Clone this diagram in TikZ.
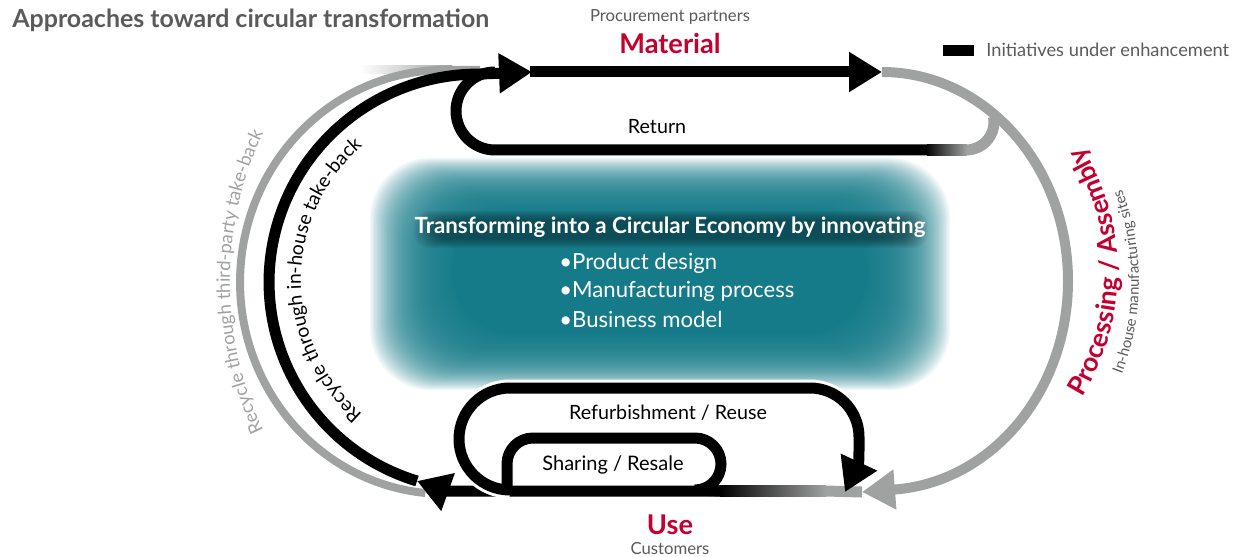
\documentclass[tikz,border=0pt]{standalone}
\usepackage{fontspec}
\setmainfont{Lato}
\usetikzlibrary{arrows.meta,decorations.text}
\definecolor{nisred}{HTML}{C3002F}
\definecolor{arcgrey}{HTML}{A0A2A1}
\definecolor{txtgrey}{HTML}{5A5A5A}
\definecolor{blobteal}{HTML}{0D7684}

\begin{document}
\begin{tikzpicture}[x=0.02cm, y=-0.02cm,
	blk/.style={line width=0.22cm, black},
	gry/.style={line width=0.2cm, arcgrey},
	halo/.style={line width=0.34cm, white},
	tip/.style={-{Triangle[length=0.66cm,width=0.76cm]}},
	lbl/.style={inner sep=0pt, font=\fontsize{11.2}{13}\selectfont},
	stage/.style={inner sep=0pt, text=nisred, font=\bfseries\fontsize{15.5}{18}\selectfont},
	who/.style={inner sep=0pt, text=txtgrey, font=\fontsize{9.5}{11}\selectfont},
	bullet/.style={inner sep=0pt, anchor=west, text=white, font=\fontsize{12.6}{14}\selectfont}]
	\useasboundingbox (0,0) rectangle (1233,557);

	% teal cloud in the middle
	\foreach \k in {0,...,59}
		\fill[blobteal, opacity=0.05, rounded corners=1.2cm] (370+1.4*\k,158+0.95*\k) rectangle (950-1.4*\k,390-0.95*\k);
	% dark glow behind the heading
	\foreach \k in {0,...,9}
		\fill[black, opacity=0.045, rounded corners=0.3cm] (414+2*\k,211+\k) rectangle (928-2*\k,248-\k);

	% key points
	\coordinate (matIn) at (532,72);
	\coordinate (matOut) at (882,72);
	\coordinate (useIn) at (862,492);
	\coordinate (useOut) at (417,481);

	% third-party take-back (grey, outside)
	\shade[left color=white, right color=arcgrey] (360,66) rectangle (452,74);
	\draw[gry, line width=0.16cm] (425.4,493) arc[start angle=95.5, end angle=270, x radius=205, y radius=212] -- (480,70);

	% processing / assembly (grey, right)
	\draw[gry, tip] (matOut) arc[start angle=-90, end angle=86, x radius=186, y radius=209] -- (useIn);

	% return
	\draw[gry, line width=0.22cm] (966,150) arc[start angle=90, end angle=-10, radius=28];
	\shade[left color=black, right color=arcgrey] (925,144.5) rectangle (967,155.5);
	\draw[halo] (927,150) -- (495,150);
	\draw[blk] (927,150) -- (495,150) arc[start angle=90, end angle=270, radius=39];

	% material
	\draw[blk, tip] (530,72) -- (matOut);

	% in-house take-back
	\draw[blk, tip] (useOut) arc[start angle=107, end angle=270, x radius=209, y radius=208] -- (matIn);

	% use line
	\shade[left color=black, right color=arcgrey] (720,485.5) rectangle (826,496.5);
	\draw[gry, line width=0.22cm] (825,491) -- (useIn);
	\draw[blk, tip] (722,491) -- (470,491) .. controls (445,491) .. (useOut);

	% refurbishment / reuse
	\draw[halo] (510,490) arc[start angle=90, end angle=270, radius=51] -- (810,388) arc[start angle=270, end angle=360, radius=49];
	\draw[blk, tip] (510,490) arc[start angle=90, end angle=270, radius=51] -- (810,388) arc[start angle=270, end angle=360, radius=49] .. controls (859,462) .. (845,492);

	% sharing / resale
	\draw[blk] (507,490) -- (507,464) arc[start angle=180, end angle=270, radius=26] -- (695,438) arc[start angle=270, end angle=450, radius=26] -- (722,491);

	% legend
	\fill[black] (943,45) rectangle (974,56);
	\node[who, anchor=west, font=\fontsize{10.4}{12}\selectfont] (legend) at (986,50) {Initiatives under enhancement};

	% labels
	\node[inner sep=0pt, anchor=west, text=txtgrey, font=\bfseries\fontsize{14.2}{16}\selectfont] (title) at (12,20) {Approaches toward circular transformation};
	\node[who] (partners) at (670,17) {Procurement partners};
	\node[stage] (material) at (670,43) {Material};
	\node[lbl] (return) at (657,127) {Return};
	\node[lbl] (refurb) at (668,413) {Refurbishment / Reuse};
	\node[lbl, font=\fontsize{11.4}{13}\selectfont] (sharing) at (613,465) {Sharing / Resale};
	\node[stage] (use) at (670,525) {Use};
	\node[who] (customers) at (670,549) {Customers};

	% centre text
	\node[inner sep=0pt, text=white, font=\bfseries\fontsize{12.7}{15}\selectfont] (goal) at (670,227) {Transforming into a Circular Economy by innovating};
	\node[bullet] (design) at (559,263) {\textbullet Product design};
	\node[bullet] (process) at (559,291) {\textbullet Manufacturing process};
	\node[bullet] (model) at (559,319) {\textbullet Business model};

	% texts along the arcs
	\path[decorate, decoration={text along path, text align=center,
		text={|\fontsize{10.5}{12}\selectfont\color{arcgrey}|Recycle through third-party take-back}}]
		(450,282) ++(110:220 and 281) arc[start angle=110, end angle=250, x radius=220, y radius=281];
	\path[decorate, decoration={text along path, text align=center,
		text={|\fontsize{11}{13}\selectfont|Recycle through in-house take-back}}]
		(478,280) ++(110:177) arc[start angle=110, end angle=250, radius=177];
	\path[decorate, decoration={text along path, text align=center,
		text={|\bfseries\fontsize{15}{17}\selectfont\color{nisred}|Processing / Assembly}}]
		(880,272) ++(50:238) arc[start angle=50, end angle=-50, radius=238];
	\path[decorate, decoration={text along path, text align=center,
		text={|\fontsize{8.5}{10}\selectfont\color{txtgrey}|In-house manufacturing sites}}]
		(880,282) ++(40:259) arc[start angle=40, end angle=-40, radius=259];
\end{tikzpicture}
\end{document}
